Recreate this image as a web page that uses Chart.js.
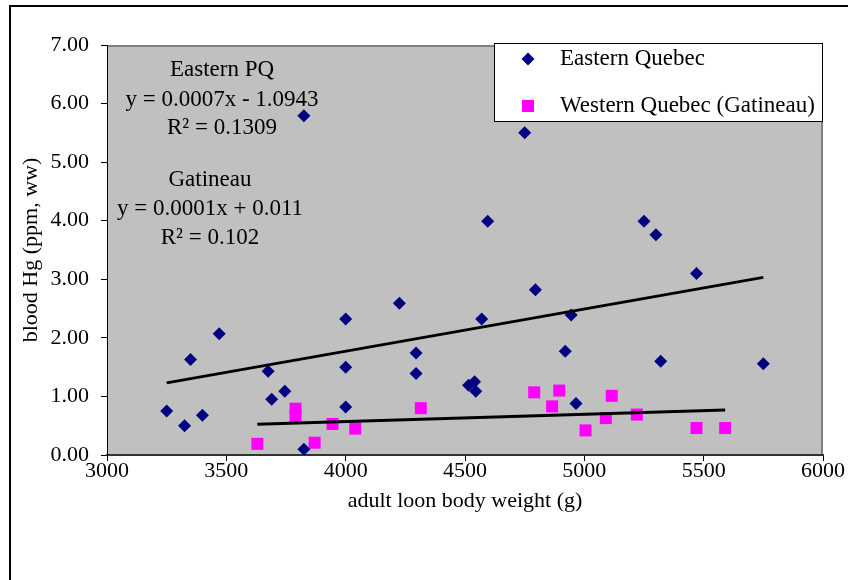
<!DOCTYPE html>
<html>
<head>
<meta charset="utf-8">
<script src="https://cdn.jsdelivr.net/npm/chart.js"></script>
<style>
  html, body { margin: 0; padding: 0; background: #fff; }
  #wrap { width: 848px; height: 580px; }
</style>
</head>
<body>
<div id="wrap"><canvas id="loonChart" width="848" height="580"></canvas></div>
<script>
// adult loon body weight (g) vs blood Hg (ppm, ww)
const eastWeight = [3250, 3325, 3350, 3400, 3470, 3675, 3690, 3745, 3825, 3825,
                    4000, 4000, 4000, 4225, 4295, 4295, 4515, 4540, 4545, 4570,
                    4595, 4750, 4795, 4920, 4945, 4965, 5250, 5300, 5320, 5470, 5750];
const eastHg = [0.75, 0.50, 1.63, 0.68, 2.07, 1.43, 0.95, 1.09, 0.10, 5.79,
                2.32, 1.50, 0.82, 2.59, 1.74, 1.39, 1.19, 1.25, 1.09, 2.32,
                3.99, 5.50, 2.82, 1.77, 2.39, 0.88, 3.99, 3.76, 1.60, 3.10, 1.56];
const westWeight = [3630, 3790, 3790, 3870, 3945, 4040, 4315, 4790, 4865, 4895,
                    5005, 5090, 5115, 5220, 5470, 5590];
const westHg = [0.19, 0.79, 0.65, 0.21, 0.53, 0.45, 0.80, 1.07, 0.83, 1.10,
                0.42, 0.63, 1.01, 0.69, 0.46, 0.46];
const seriesNames = ['Eastern Quebec', 'Western Quebec (Gatineau)'];
const xTicks = [3000, 3500, 4000, 4500, 5000, 5500, 6000];
const yTicks = [0, 1, 2, 3, 4, 5, 6, 7];
const eastNote = ['Eastern PQ', 'y = 0.0007x - 1.0943', 'R² = 0.1309'];
const westNote = ['Gatineau', 'y = 0.0001x + 0.011', 'R² = 0.102'];

const SERIF = '"Liberation Serif", "Times New Roman", serif';
const NAVY = '#000080';
const PINK = '#FF00FF';

function toPoints(xs, ys) {
  return xs.map((x, i) => ({ x: x, y: ys[i] }));
}

// least squares line over the range of the data, like Excel's linear trendline
function trend(xs, ys) {
  const n = xs.length;
  const mx = xs.reduce((a, b) => a + b, 0) / n;
  const my = ys.reduce((a, b) => a + b, 0) / n;
  let sxy = 0, sxx = 0;
  for (let i = 0; i < n; i++) {
    sxy += (xs[i] - mx) * (ys[i] - my);
    sxx += (xs[i] - mx) * (xs[i] - mx);
  }
  const slope = sxy / sxx;
  const icept = my - slope * mx;
  const x0 = Math.min(...xs), x1 = Math.max(...xs);
  return [{ x: x0, y: icept + slope * x0 }, { x: x1, y: icept + slope * x1 }];
}

const plotArea = {
  id: 'plotArea',
  beforeDraw(chart) {
    const { ctx, chartArea: a } = chart;
    ctx.save();
    // outer chart border
    ctx.strokeStyle = '#000';
    ctx.lineWidth = 2;
    ctx.strokeRect(10, 6, 900, 700);
    ctx.fillStyle = '#C0C0C0';
    ctx.fillRect(a.left, a.top, a.right - a.left, a.bottom - a.top);
    ctx.strokeStyle = '#808080';
    ctx.lineWidth = 2;
    ctx.beginPath();
    ctx.moveTo(a.left, a.top + 1);
    ctx.lineTo(a.right, a.top + 1);
    ctx.moveTo(a.right - 1, a.top);
    ctx.lineTo(a.right - 1, a.bottom);
    ctx.stroke();
    ctx.restore();
  },
  afterDraw(chart) {
    const { ctx, chartArea: a } = chart;
    ctx.save();
    // regression notes
    ctx.fillStyle = '#000';
    ctx.font = '23px ' + SERIF;
    ctx.textAlign = 'center';
    ctx.textBaseline = 'middle';
    const ex = a.left + 115, wx = a.left + 103;
    [25, 55, 83].forEach((dy, i) => ctx.fillText(eastNote[i], ex, a.top + dy));
    [135, 164, 193].forEach((dy, i) => ctx.fillText(westNote[i], wx, a.top + dy));

    // legend box
    const lx = 494, ly = 43, lw = 328, lh = 78;
    ctx.fillStyle = '#fff';
    ctx.fillRect(lx, ly, lw, lh);
    ctx.strokeStyle = '#000';
    ctx.lineWidth = 1;
    ctx.strokeRect(lx + 0.5, ly + 0.5, lw, lh);

    const y1 = ly + 16, y2 = ly + 63, mx = lx + 34;
    ctx.fillStyle = NAVY;
    ctx.beginPath();
    ctx.moveTo(mx, y1 - 6.5);
    ctx.lineTo(mx + 6.5, y1);
    ctx.lineTo(mx, y1 + 6.5);
    ctx.lineTo(mx - 6.5, y1);
    ctx.closePath();
    ctx.fill();
    ctx.fillStyle = PINK;
    ctx.fillRect(mx - 6, y2 - 6, 12, 12);

    ctx.fillStyle = '#000';
    ctx.font = '23px ' + SERIF;
    ctx.textAlign = 'left';
    ctx.fillText(seriesNames[0], lx + 66, y1);
    ctx.fillText(seriesNames[1], lx + 66, y2);
    ctx.restore();
  }
};

new Chart(document.getElementById('loonChart'), {
  type: 'scatter',
  data: {
    datasets: [
      {
        label: 'east trend',
        type: 'line',
        data: trend(eastWeight, eastHg),
        borderColor: '#000',
        borderWidth: 3,
        pointRadius: 0,
        order: 0
      },
      {
        label: 'west trend',
        type: 'line',
        data: trend(westWeight, westHg),
        borderColor: '#000',
        borderWidth: 3,
        pointRadius: 0,
        order: 0
      },
      {
        label: seriesNames[0],
        data: toPoints(eastWeight, eastHg),
        pointStyle: 'rectRot',
        pointRadius: 6.5,
        backgroundColor: NAVY,
        borderColor: NAVY,
        borderWidth: 0,
        order: 1
      },
      {
        label: seriesNames[1],
        data: toPoints(westWeight, westHg),
        pointStyle: 'rect',
        pointRadius: 8.5,
        backgroundColor: PINK,
        borderColor: PINK,
        borderWidth: 0,
        order: 1
      }
    ]
  },
  options: {
    responsive: false,
    animation: false,
    layout: { padding: { top: 45, right: 25, left: 0, bottom: 0 } },
    plugins: {
      legend: { display: false },
      tooltip: { enabled: false }
    },
    scales: {
      x: {
        type: 'linear',
        min: xTicks[0],
        max: xTicks[xTicks.length - 1],
        afterBuildTicks: (s) => { s.ticks = xTicks.map(v => ({ value: v })); },
        afterFit: (s) => { s.height = 125; },
        ticks: {
          color: '#000',
          font: { family: SERIF, size: 22 },
          padding: -3,
          maxRotation: 0,
          callback: (v) => String(v)
        },
        grid: { drawOnChartArea: false, tickLength: 6, tickColor: '#000', tickWidth: 1 },
        border: { color: '#333', width: 2 },
        title: {
          display: true,
          text: 'adult loon body weight (g)',
          color: '#000',
          font: { family: SERIF, size: 22 },
          padding: { bottom: 66 }
        }
      },
      y: {
        min: yTicks[0],
        max: yTicks[yTicks.length - 1],
        afterBuildTicks: (s) => { s.ticks = yTicks.map(v => ({ value: v })); },
        afterFit: (s) => { s.width = 107; },
        ticks: {
          color: '#000',
          font: { family: SERIF, size: 22 },
          padding: 12,
          callback: (v) => Number(v).toFixed(2)
        },
        grid: { drawOnChartArea: false, tickLength: 6, tickColor: '#000', tickWidth: 1 },
        border: { color: '#000', width: 1 },
        title: {
          display: true,
          text: 'blood Hg (ppm, ww)',
          color: '#000',
          font: { family: SERIF, size: 22 },
          padding: { top: 18 }
        }
      }
    }
  },
  plugins: [plotArea]
});
</script>
</body>
</html>
